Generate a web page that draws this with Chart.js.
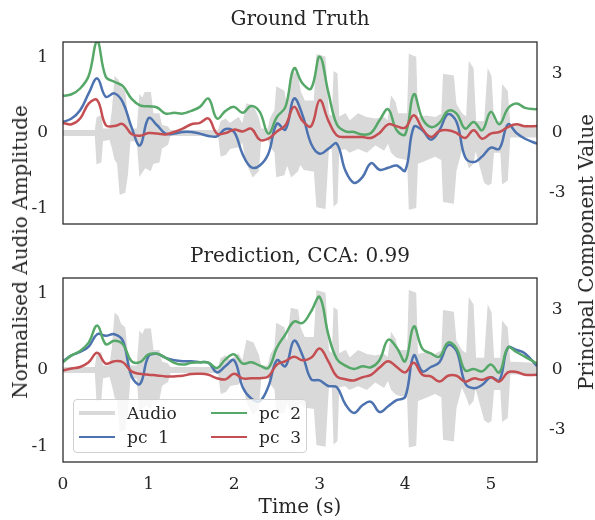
<!DOCTYPE html>
<html>
<head>
<meta charset="utf-8">
<script src="https://cdn.jsdelivr.net/npm/chart.js@4.4.1/dist/chart.umd.min.js"></script>
<style>
  body { margin: 0; background: #fff; }
  #wrap { position: relative; width: 595px; height: 520px; font-family: "DejaVu Serif", serif; color: #262626; }
  canvas { position: absolute; left: 0; }
  .txt { position: absolute; white-space: pre; line-height: 1; }
  .title { font-size: 20px; transform: translate(-50%, -50%); }
  .vlabel { font-size: 20px; transform: translate(-50%, -50%) rotate(-90deg); }
  #legend { position: absolute; left: 73px; top: 399px; width: 234px; height: 54px; box-sizing: border-box;
            border: 1px solid #d0d0d0; border-radius: 4px; background: rgba(255,255,255,0.8); }
  .lh { position: absolute; height: 0; }
  .lt { position: absolute; font-size: 17px; white-space: pre; line-height: 1; transform: translateY(-50%); }
</style>
</head>
<body>
<div id="wrap">
  <canvas id="gt" width="595" height="252" style="top:0;width:595px;height:252px"></canvas>
  <canvas id="pred" width="595" height="288" style="top:232px;width:595px;height:288px"></canvas>
  <div class="txt title" style="left:300px;top:18px">Ground Truth</div>
  <div class="txt title" style="left:300px;top:255px">Prediction, CCA: 0.99</div>
  <div class="txt vlabel" style="left:20px;top:252px">Normalised Audio Amplitude</div>
  <div class="txt vlabel" style="left:586px;top:252px">Principal Component Value</div>
  <div id="legend"></div>
</div>
<script>
// time grid for the principal components (s)
const pcTime = [0, 0.1, 0.2, 0.3, 0.4, 0.5, 0.6, 0.7, 0.8, 0.9,
  1.0, 1.1, 1.2, 1.3, 1.4, 1.5, 1.6, 1.7, 1.8, 1.9,
  2.0, 2.1, 2.2, 2.3, 2.4, 2.5, 2.6, 2.7, 2.8, 2.9,
  3.0, 3.1, 3.2, 3.3, 3.4, 3.5, 3.6, 3.7, 3.8, 3.9,
  4.0, 4.1, 4.2, 4.3, 4.4, 4.5, 4.6, 4.7, 4.8, 4.9,
  5.0, 5.1, 5.2, 5.3, 5.4, 5.54];

// ground truth
const gtPc1 = [0.56, 0.73, 1.15, 2.0, 2.76, 1.83, 2.0, 1.55, 0.30, -0.63,
  0.75, 0.39, -0.03, -0.03, 0.05, 0.05, -0.03, -0.15, -0.17, 0.2,
  0.05, -1.08, -1.73, -1.64, -1.05, 0.47, 0.17, 1.74, 0.90, -0.54,
  -1.05, -0.80, -0.54, -1.90, -2.52, -2.23, -1.52, -1.86, -1.76, -1.64,
  -1.90, 0.30, 0.14, -0.34, 0.14, 0.95, 0.56, -1.22, -1.47, -1.18,
  -0.74, -0.80, 0.44, 0, -0.29, -0.54];
const gtPc2 = [1.88, 1.96, 2.25, 2.88, 4.62, 2.84, 2.59, 2.37, 1.74, 1.40,
  1.35, 1.29, 0.98, 1.02, 0.98, 1.12, 1.32, 1.74, 0.73, 1.12,
  1.32, 1.02, 1.37, 1.07, -0.03, 0.81, 1.32, 3.27, 2.50, 2.25,
  3.86, 2.08, 0.44, 0.08, 0.05, -0.08, 0, 0.64, 1.2, 0.14,
  -0.07, 1.96, 0.73, 0.30, 0.51, 1.12, 0.98, 0.22, 0.56, 0.14,
  1.07, 0.44, 1.24, 1.49, 1.27, 1.20];
const gtPc3 = [0.51, 0.44, 0.73, 1.49, 1.66, 0.40, 0.35, 0.45, -0.05, -0.14,
  0, -0.03, -0.07, 0.05, 0.22, 0.44, 0.51, 0.73, -0.03, 0.0,
  0.17, 0.08, 0.22, -0.34, -0.29, 0.08, 0.39, 1.32, 0.61, 0.34,
  1.66, 0.64, -0.12, -0.20, -0.20, -0.20, -0.25, 0.0, 0.44, 0.34,
  0.27, 0.90, 0.22, -0.20, 0.10, 0.14, 0, -0.25, 0.14, -0.29,
  -0.03, 0.05, 0.30, 0.44, 0.34, 0.36];

// prediction
const predPc1 = [0.44, 0.73, 0.90, 1.17, 1.79, 1.71, 1.79, 1.46, -0.3, -0.7,
  0.69, 0.81, 0.61, 0.49, 0.44, 0.44, 0.39, 0.36, -0.12, 0.2,
  0.49, -0.86, -1.42, -1.56, -0.83, 0.49, 0.19, 1.46, 0.73, -0.46,
  -0.52, -0.80, -0.86, -1.71, -2.15, -1.76, -1.59, -2.1, -1.81, -1.51,
  -1.34, 0.73, -0.07, 0.15, 0.39, 1.24, 0.95, -0.66, -0.91, -0.74,
  -0.36, -0.52, 1.12, 1.00, 0.83, 0.19];
const predPc2 = [0.39, 0.73, 0.95, 1.37, 2.22, 1.29, 1.46, 1.29, 0.44, 0.39,
  0.78, 0.81, 0.61, 0.36, 0.27, 0.36, 0.39, 0.36, 0.10, 0.54,
  0.78, 0.32, 0.39, 0.22, 0.10, 1.12, 1.79, 2.42, 2.35, 2.93,
  3.65, 1.79, 0.56, 0.22, 0.05, 0.19, 0.14, 0.5, 1.51, 1.12,
  0.44, 2.18, 1.07, 0.83, 0.66, 1.37, 1.07, -0.02, 0.05, -0.07,
  0.27, -0.12, 1.12, 0.90, 0.66, 0.32];
const predPc3 = [-0.02, 0.07, 0.15, 0.39, 0.86, 0.32, 0.44, 0.39, -0.07, -0.19,
  -0.24, -0.27, -0.32, -0.32, -0.29, -0.20, -0.19, -0.24, -0.41, -0.47,
  -0.19, -0.42, -0.41, -0.41, -0.32, 0.27, 0.44, 0.66, 0.49, 0.61,
  1.07, 0.44, -0.32, -0.46, -0.52, -0.36, -0.24, 0.12, 0.44, 0.15,
  -0.12, 0.36, -0.24, -0.32, -0.58, -0.29, -0.29, -0.58, -0.42, -0.49,
  -0.36, -0.58, -0.12, -0.10, -0.24, -0.24];

// audio envelope (upper / lower), same clip for both panels
const audioTime = [0.00, 0.38, 0.40, 0.44, 0.46, 0.55, 0.58, 0.61, 0.64, 0.67, 0.72, 0.75, 0.78, 0.87,
  0.90, 0.93, 0.96, 1.02, 1.05, 1.12, 1.15, 1.22, 1.25, 1.82, 1.85, 1.90, 1.95, 2.05, 2.10,
  2.15, 2.22, 2.28, 2.31, 2.40, 2.43, 2.48, 2.50, 2.58, 2.62, 2.67, 2.74, 2.77, 2.82, 2.94,
  2.97, 3.06, 3.10, 3.15, 3.17, 3.20, 3.22, 3.30, 3.35, 3.45, 3.55, 3.65, 3.75, 3.80, 3.84,
  3.88, 3.91, 4.03, 4.05, 4.12, 4.14, 4.25, 4.35, 4.43, 4.45, 4.56, 4.59, 4.66, 4.72, 4.75,
  4.79, 4.82, 4.93, 4.97, 5.00, 5.03, 5.12, 5.14, 5.19, 5.22, 5.54];
const audioUpper = [0.03, 0.03, 0.20, 0.22, 0.05, 0.05, 0.30, 0.73, 0.70, 0.60, 0.55, 0.20, 0.05, 0.05,
  0.49, 0.45, 0.53, 0.53, 0.25, 0.25, 0.10, 0.08, 0.03, 0.03, 0.15, 0.18, 0.12, 0.20, 0.10,
  0.38, 0.35, 0.20, 0.05, 0.05, 0.20, 0.30, 0.60, 0.55, 0.30, 0.80, 0.78, 0.55, 0.42, 0.42,
  1.03, 1.00, 0.25, 0.20, 0.80, 0.78, 0.20, 0.25, 0.15, 0.25, 0.20, 0.18, 0.20, 0.15, 0.47,
  0.40, 0.25, 0.25, 1.03, 1.00, 0.20, 0.22, 0.20, 0.25, 0.77, 0.75, 0.38, 0.25, 0.20, 0.92,
  0.85, 0.15, 0.15, 0.82, 0.75, 0.15, 0.15, 0.62, 0.55, 0.10, 0.08];
const audioLower = [-0.03, -0.03, -0.40, -0.38, -0.10, -0.08, -0.20, -0.35, -0.40, -0.80, -0.78, -0.55, -0.10, -0.10,
  -0.55, -0.50, -0.45, -0.49, -0.40, -0.38, -0.20, -0.15, -0.03, -0.03, -0.30, -0.28, -0.20, -0.18, -0.10,
  -0.40, -0.57, -0.50, -0.08, -0.08, -0.18, -0.25, -0.57, -0.55, -0.40, -0.57, -0.50, -0.40, -0.48, -0.50,
  -0.97, -0.99, -0.20, -0.20, -0.95, -0.92, -0.22, -0.20, -0.25, -0.20, -0.25, -0.15, -0.22, -0.12, -0.25,
  -0.30, -0.32, -0.35, -1.00, -0.98, -0.40, -0.35, -0.30, -0.35, -0.90, -0.92, -0.50, -0.20, -0.35, -0.45,
  -0.40, -0.20, -0.65, -0.68, -0.66, -0.25, -0.25, -0.66, -0.62, -0.05, -0.05];

const xTicks = [0, 1, 2, 3, 4, 5];
const audioTicks = [-1, 0, 1];
const pcTicks = [-3, 0, 3];
const legendLabels = ['Audio', 'pc  1', 'pc  2', 'pc  3'];

const BLUE = '#4c72b0', GREEN = '#55a868', RED = '#c44e52', GREY = '#d9d9d9', INK = '#262626';
const tickFont = { family: 'DejaVu Serif', size: 17 };

const pts = (xs, ys) => xs.map((x, i) => ({ x: x, y: ys[i] }));

const framePlugin = {
  id: 'frame',
  afterDatasetsDraw(chart) {
    const a = chart.chartArea, c = chart.ctx;
    c.save();
    c.strokeStyle = INK;
    c.lineWidth = 1.25;
    c.strokeRect(a.left, a.top, a.right - a.left, a.bottom - a.top);
    c.restore();
  }
};

function panel(id, pc1, pc2, pc3, showX, pad) {
  const line = (label, data, color, order) => ({
    label: label, data: pts(pcTime, data), yAxisID: 'y1', borderColor: color,
    borderWidth: 2.5, pointRadius: 0, tension: 0.4, fill: false, order: order
  });
  return new Chart(document.getElementById(id), {
    type: 'line',
    data: {
      datasets: [
        line('pc 1', pc1, BLUE, 3),
        line('pc 2', pc2, GREEN, 2),
        line('pc 3', pc3, RED, 1),
        { label: 'Audio', data: pts(audioTime, audioUpper), yAxisID: 'y', borderColor: GREY,
          backgroundColor: GREY, borderWidth: 1.5, pointRadius: 0, tension: 0, fill: '+1', order: 10 },
        { label: 'Audio low', data: pts(audioTime, audioLower), yAxisID: 'y', borderColor: GREY,
          borderWidth: 1.5, pointRadius: 0, tension: 0, fill: false, order: 11 }
      ]
    },
    options: {
      responsive: false,
      animation: false,
      layout: { padding: pad },
      plugins: { legend: { display: false }, tooltip: { enabled: false } },
      scales: {
        x: {
          type: 'linear', min: 0, max: 5.54, display: showX,
          grid: { display: false, drawTicks: false }, border: { display: false },
          ticks: { padding: 12, font: tickFont, color: INK },
          afterBuildTicks: s => { s.ticks = xTicks.map(v => ({ value: v })); },
          afterFit: s => { s.height = showX ? 58 : 0; },
          title: { display: true, text: 'Time (s)', padding: 0, color: INK,
                   font: { family: 'DejaVu Serif', size: 20 } }
        },
        y: {
          position: 'left', min: -1.2, max: 1.2,
          grid: { display: false, drawTicks: false }, border: { display: false },
          ticks: { padding: 15, font: tickFont, color: INK },
          afterBuildTicks: s => { s.ticks = audioTicks.map(v => ({ value: v })); },
          afterFit: s => { s.width = 63; }
        },
        y1: {
          position: 'right', min: -4.6, max: 4.6,
          grid: { display: false, drawTicks: false }, border: { display: false },
          ticks: { padding: 12, crossAlign: 'center', font: tickFont, color: INK },
          afterBuildTicks: s => { s.ticks = pcTicks.map(v => ({ value: v })); },
          afterFit: s => { s.width = 58; }
        }
      }
    },
    plugins: [framePlugin]
  });
}

panel('gt', gtPc1, gtPc2, gtPc3, false, { top: 42, bottom: 28, left: 0, right: 0 });
panel('pred', predPc1, predPc2, predPc3, true, { top: 46, bottom: 0, left: 0, right: 0 });

// legend, two columns like the original
const legendColors = [GREY, BLUE, GREEN, RED];
const legendWidths = [4, 2.5, 2.5, 2.5];
const lg = document.getElementById('legend');
legendLabels.forEach((txt, i) => {
  const col = Math.floor(i / 2), row = i % 2;
  const x0 = 5 + col * 132, y0 = 13 + row * 24;
  const h = document.createElement('div');
  h.className = 'lh';
  h.style.left = x0 + 'px';
  h.style.top = (y0 - legendWidths[i] / 2) + 'px';
  h.style.width = '36px';
  h.style.borderTop = legendWidths[i] + 'px solid ' + legendColors[i];
  lg.appendChild(h);
  const t = document.createElement('div');
  t.className = 'lt';
  t.style.left = (x0 + 48) + 'px';
  t.style.top = y0 + 'px';
  t.textContent = txt;
  lg.appendChild(t);
});
</script>
</body>
</html>
